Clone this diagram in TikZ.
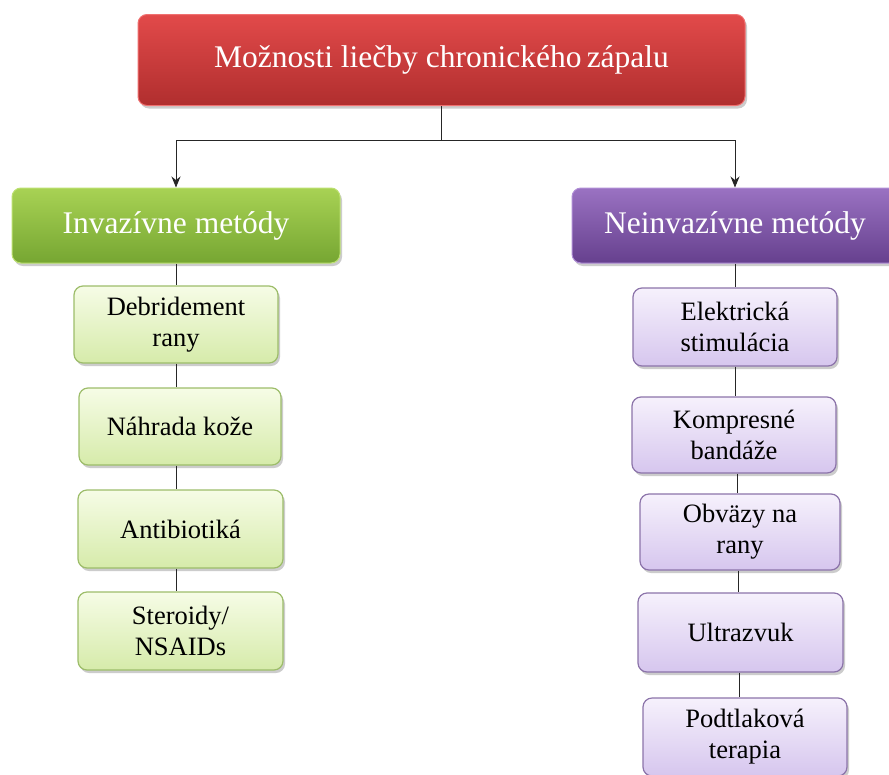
\documentclass[tikz,border=0pt]{standalone}
\usepackage{fontspec}
\setmainfont{Liberation Serif}
\usetikzlibrary{shadows,arrows.meta}
\definecolor{redT}{HTML}{E24A4A}
\definecolor{redB}{HTML}{B02E2E}
\definecolor{redL}{HTML}{F07070}
\definecolor{grnT}{HTML}{A8D254}
\definecolor{grnB}{HTML}{76A632}
\definecolor{grnL}{HTML}{BCE070}
\definecolor{purT}{HTML}{9A72C2}
\definecolor{purB}{HTML}{66408E}
\definecolor{purL}{HTML}{B08ED6}
\definecolor{lgT}{HTML}{F6FCE6}
\definecolor{lgB}{HTML}{D6EBAA}
\definecolor{lgL}{HTML}{9DBD6A}
\definecolor{lpT}{HTML}{F6F1FC}
\definecolor{lpB}{HTML}{D6C6EE}
\definecolor{lpL}{HTML}{8C74AA}
\tikzset{
  basebox/.style={rounded corners=9pt, align=center, inner sep=2pt,
    drop shadow={shadow xshift=2pt, shadow yshift=-3pt, opacity=0.4}},
  topbox/.style={basebox, draw=redL, line width=1pt, top color=redT, bottom color=redB,
    text=white, font=\fontsize{31.5}{34}\selectfont},
  hdrG/.style={basebox, draw=grnL, line width=1pt, top color=grnT, bottom color=grnB,
    text=white, font=\fontsize{31.5}{34}\selectfont},
  hdrP/.style={basebox, draw=purL, line width=1pt, top color=purT, bottom color=purB,
    text=white, font=\fontsize{31.5}{34}\selectfont},
  chG/.style={basebox, draw=lgL, line width=1.2pt, top color=lgT, bottom color=lgB,
    text=black, font=\fontsize{26.5}{31}\selectfont},
  chP/.style={basebox, draw=lpL, line width=1.2pt, top color=lpT, bottom color=lpB,
    text=black, font=\fontsize{26.5}{31}\selectfont},
  conn/.style={draw=black!85, line width=0.9pt},
  arr/.style={conn, -{Stealth[length=11pt,width=9pt]}}
}
\begin{document}
\begin{tikzpicture}[x=1pt,y=-1pt]
\clip (0,0) rectangle (889,774);
\fill[white] (0,0) rectangle (889,774);
% top
\node[topbox, minimum width=607pt, minimum height=91pt] (top) at (441.5,60) {Možnosti liečby chronického\,zápalu};
% headers
\node[hdrG, minimum width=328pt, minimum height=75pt] (hL) at (176,225.5) {Invazívne metódy};
\node[hdrP, minimum width=326pt, minimum height=75pt] (hR) at (735,225.5) {Neinvazívne metódy};
% left children
\node[chG, minimum width=204pt, minimum height=77pt] (l1) at (176,324.5) {Debridement\\rany};
\node[chG, minimum width=202pt, minimum height=77pt] (l2) at (180,426.5) {Náhrada kože};
\node[chG, minimum width=205pt, minimum height=78pt] (l3) at (180.5,529) {Antibiotiká};
\node[chG, minimum width=205pt, minimum height=78pt] (l4) at (180.5,631) {Steroidy/\\NSAIDs};
% right children
\node[chP, minimum width=204pt, minimum height=78pt] (r1) at (735,327) {Elektrická\\stimulácia};
\node[chP, minimum width=204pt, minimum height=76pt] (r2) at (734,435) {Kompresné\\bandáže};
\node[chP, minimum width=200pt, minimum height=76pt] (r3) at (740,532) {Obväzy na\\rany};
\node[chP, minimum width=205pt, minimum height=79pt] (r4) at (740.5,632.5) {Ultrazvuk};
\node[chP, minimum width=204pt, minimum height=78pt] (r5) at (745,737) {Podtlaková\\terapia};
% connectors top
\coordinate (jn) at (441.5,140);
\draw[conn] (top.south) -- (jn);
\draw[arr] (jn) -| (hL.north);
\draw[arr] (jn) -| (hR.north);
% left column
\coordinate (xl) at (176,0);
\draw[conn] (hL.south -| xl) -- (l1.north -| xl);
\draw[conn] (l1.south -| xl) -- (l2.north -| xl);
\draw[conn] (l2.south -| xl) -- (l3.north -| xl);
\draw[conn] (l3.south -| xl) -- (l4.north -| xl);
% right column
\coordinate (xr1) at (735,0);
\coordinate (xr3) at (737,0);
\coordinate (xr4) at (738,0);
\coordinate (xr5) at (739,0);
\draw[conn] (hR.south -| xr1) -- (r1.north -| xr1);
\draw[conn] (r1.south -| xr1) -- (r2.north -| xr1);
\draw[conn] (r2.south -| xr3) -- (r3.north -| xr3);
\draw[conn] (r3.south -| xr4) -- (r4.north -| xr4);
\draw[conn] (r4.south -| xr5) -- (r5.north -| xr5);
\end{tikzpicture}
\end{document}
